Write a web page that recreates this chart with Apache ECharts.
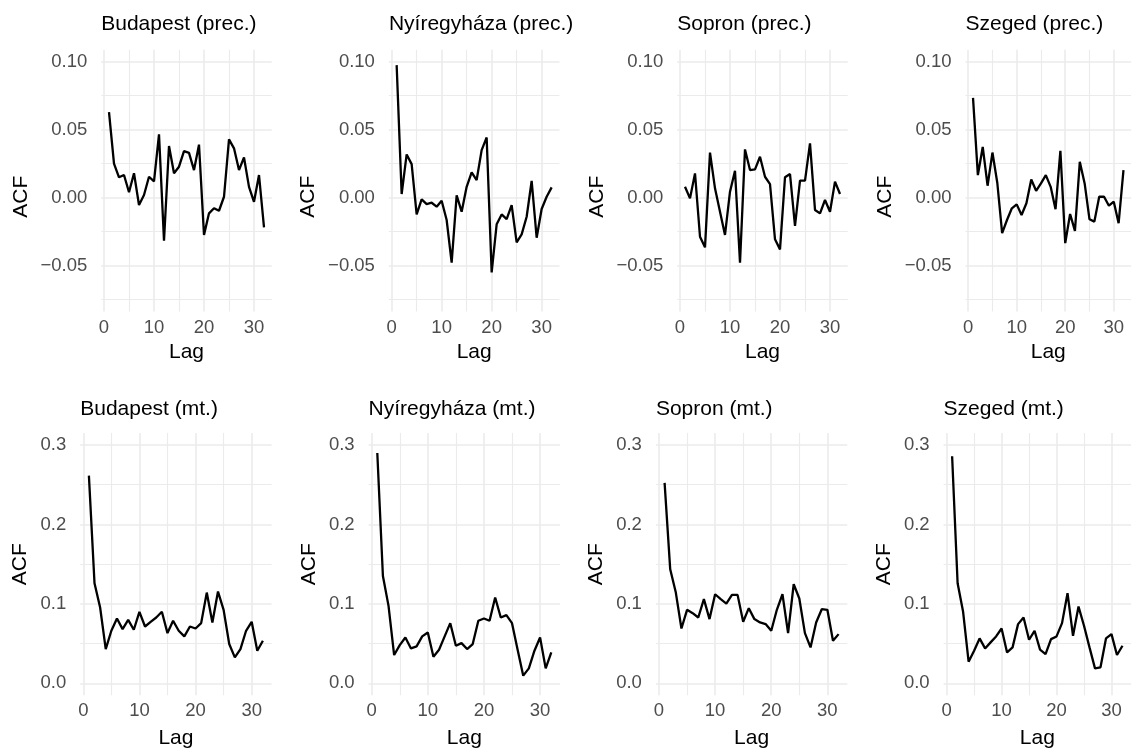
<!DOCTYPE html>
<html>
<head>
<meta charset="utf-8">
<script src="https://cdn.jsdelivr.net/npm/echarts@6/dist/echarts.min.js"></script>
<style>
  html, body { margin: 0; padding: 0; background: #ffffff; }
  #chart { width: 1131px; height: 754px; }
</style>
</head>
<body>
<div id="chart"></div>
<script>
// Autocorrelation (ACF) of daily series at four Hungarian stations, lags 1..32
const lags = [1, 2, 3, 4, 5, 6, 7, 8, 9, 10, 11, 12, 13, 14, 15, 16,
              17, 18, 19, 20, 21, 22, 23, 24, 25, 26, 27, 28, 29, 30, 31, 32];

// precipitation
const budapestPrec = [0.063, 0.025, 0.015, 0.0167, 0.004, 0.018, -0.0054, 0.002, 0.0154, 0.012, 0.0466, -0.0316,
  0.038, 0.018, 0.0228, 0.0343, 0.033, 0.0203, 0.039, -0.0274, -0.0115, -0.0078, -0.0096, 0.0007,
  0.0429, 0.0363, 0.0203, 0.0296, 0.008, -0.003, 0.0167, -0.0218];
const nyiregyhazaPrec = [0.0975, 0.0027, 0.0318, 0.0247, -0.0123, -0.0012, -0.0047, -0.0037, -0.0066, -0.0022, -0.0164, -0.0478,
  0.0017, -0.0103, 0.008, 0.0186, 0.013, 0.035, 0.0443, -0.0549, -0.0196, -0.0123, -0.0157, -0.0054,
  -0.0328, -0.027, -0.014, 0.0123, -0.0294, -0.0083, 0.0007, 0.0076];
const sopronPrec = [0.008, -0.0005, 0.0179, -0.0287, -0.0365, 0.0331, 0.0069, -0.0103, -0.0274, 0.0044, 0.0198, -0.0478,
  0.0355, 0.0203, 0.0208, 0.0301, 0.0154, 0.01, -0.0306, -0.038, 0.015, 0.0174, -0.0208, 0.0125,
  0.0125, 0.04, -0.009, -0.0115, -0.0017, -0.0103, 0.0118, 0.0027];
const szegedPrec = [0.0734, 0.0166, 0.0373, 0.0088, 0.0332, 0.011, -0.0261, -0.0164, -0.0078, -0.0049, -0.0127, -0.0041,
  0.0134, 0.0051, 0.0105, 0.0166, 0.008, -0.0085, 0.0344, -0.0334, -0.012, -0.0244, 0.0264, 0.0105,
  -0.0159, -0.0176, 0.0007, 0.0007, -0.0059, -0.0029, -0.0188, 0.0203];

// mean temperature
const budapestMt = [0.2615, 0.126, 0.0954, 0.0431, 0.0661, 0.0816, 0.0682, 0.0799, 0.0674, 0.09, 0.0715, 0.0774,
  0.0828, 0.09, 0.0632, 0.0787, 0.0661, 0.059, 0.0715, 0.069, 0.0757, 0.1142, 0.0766, 0.1155,
  0.0925, 0.0494, 0.0326, 0.0431, 0.0661, 0.0774, 0.041, 0.0536];
const nyiregyhazaMt = [0.29, 0.135, 0.0975, 0.0356, 0.0481, 0.0577, 0.0439, 0.0464, 0.059, 0.064, 0.0335, 0.0423,
  0.059, 0.0757, 0.0473, 0.0506, 0.0431, 0.0494, 0.0787, 0.0816, 0.0787, 0.108, 0.0828, 0.0858,
  0.0757, 0.0423, 0.0096, 0.0188, 0.041, 0.0577, 0.0188, 0.0389];
const sopronMt = [0.2523, 0.1435, 0.1142, 0.069, 0.0925, 0.0883, 0.0828, 0.1059, 0.0808, 0.1121, 0.1059, 0.1004,
  0.1113, 0.1113, 0.0774, 0.0946, 0.0808, 0.0766, 0.0745, 0.0661, 0.0925, 0.1121, 0.0632, 0.1247,
  0.1067, 0.0632, 0.0452, 0.0766, 0.0933, 0.0925, 0.0536, 0.0619];
const szegedMt = [0.2858, 0.126, 0.09, 0.0272, 0.041, 0.0565, 0.0439, 0.0515, 0.059, 0.069, 0.0389, 0.0452,
  0.0745, 0.0828, 0.0548, 0.0661, 0.0423, 0.0368, 0.0556, 0.059, 0.0757, 0.1134, 0.0598, 0.0966,
  0.0724, 0.0452, 0.0188, 0.0201, 0.0565, 0.0619, 0.0356, 0.0473];

// axis ticks
const lagTicks = [0, 10, 20, 30];
const lagMinorTicks = [5, 15, 25];
const precTicks = [-0.05, 0, 0.05, 0.1];
const precMinorTicks = [-0.075, -0.025, 0.025, 0.075];
const mtTicks = [0, 0.1, 0.2, 0.3];
const mtMinorTicks = [0.05, 0.15, 0.25];

const FONT = '"Liberation Sans", Arial, Helvetica, sans-serif';
const GRID_COLOR = '#EBEBEB';
const TICK_COLOR = '#4D4D4D';

const rows = [
  { top: 49.8, height: 261.8, width: 170.5, yMin: -0.08375, yMax: 0.10875,
    major: precTicks, minor: precMinorTicks, titleTop: 14.1, yNameGap: 70, xNameGap: 30.5,
    yNamePadding: [0, 32, 0, 0],
    fmt: v => (v < 0 ? '\u2212' : '') + Math.abs(v).toFixed(2) },
  { top: 433.1, height: 262.1, width: 191.4, yMin: -0.015, yMax: 0.315,
    major: mtTicks, minor: mtMinorTicks, titleTop: 398.4, yNameGap: 49, xNameGap: 32.5,
    yNamePadding: [0, 0, 0, 0],
    fmt: v => v.toFixed(1) }
];

const panels = [
  { title: 'Budapest (prec.)',    values: budapestPrec,    row: 0, left: 101.25 },
  { title: 'Nyíregyháza (prec.)', values: nyiregyhazaPrec, row: 0, left: 388.9 },
  { title: 'Sopron (prec.)',      values: sopronPrec,      row: 0, left: 677.25 },
  { title: 'Szeged (prec.)',      values: szegedPrec,      row: 0, left: 965.5 },
  { title: 'Budapest (mt.)',      values: budapestMt,      row: 1, left: 80.2 },
  { title: 'Nyíregyháza (mt.)',   values: nyiregyhazaMt,   row: 1, left: 368.6 },
  { title: 'Sopron (mt.)',        values: sopronMt,        row: 1, left: 655.9 },
  { title: 'Szeged (mt.)',        values: szegedMt,        row: 1, left: 943.6 }
];

const X_MIN = -0.55, X_MAX = 33.55;

const option = {
  animation: false,
  backgroundColor: '#ffffff',
  title: [], grid: [], xAxis: [], yAxis: [], series: []
};

panels.forEach((p, i) => {
  const r = rows[p.row];
  option.title.push({
    text: p.title, left: p.left, top: r.titleTop, padding: 0,
    textStyle: { fontFamily: FONT, fontSize: 21, fontWeight: 'normal', color: '#000000' }
  });
  option.grid.push({ left: p.left, top: r.top, width: r.width, height: r.height, containLabel: false });

  // main x axis: labels, name and major grid lines
  option.xAxis.push({
    type: 'value', gridIndex: i, min: X_MIN, max: X_MAX,
    axisLine: { show: false, onZero: false },
    axisTick: { show: false, customValues: lagTicks },
    axisLabel: { customValues: lagTicks, margin: 6.5, color: TICK_COLOR, fontSize: 18.5, fontFamily: FONT },
    splitLine: { show: true, lineStyle: { color: GRID_COLOR, width: 1.6 } },
    name: 'Lag', nameLocation: 'middle', nameGap: r.xNameGap,
    nameTextStyle: { color: '#000000', fontSize: 21, fontFamily: FONT }
  });
  // secondary x axis: minor grid lines only
  option.xAxis.push({
    type: 'value', gridIndex: i, min: X_MIN, max: X_MAX,
    axisLine: { show: false, onZero: false },
    axisTick: { show: false, customValues: lagMinorTicks },
    axisLabel: { show: false },
    splitLine: { show: true, lineStyle: { color: GRID_COLOR, width: 1.1 } }
  });

  option.yAxis.push({
    type: 'value', gridIndex: i, min: r.yMin, max: r.yMax,
    axisLine: { show: false, onZero: false },
    axisTick: { show: false, customValues: r.major },
    axisLabel: { customValues: r.major, margin: 14, color: TICK_COLOR, fontSize: 18.5, fontFamily: FONT,
                 formatter: r.fmt },
    splitLine: { show: true, lineStyle: { color: GRID_COLOR, width: 1.6 } },
    name: 'ACF', nameLocation: 'middle', nameGap: r.yNameGap, nameRotate: 90,
    nameTextStyle: { color: '#000000', fontSize: 21, fontFamily: FONT, padding: r.yNamePadding }
  });
  option.yAxis.push({
    type: 'value', gridIndex: i, min: r.yMin, max: r.yMax,
    axisLine: { show: false, onZero: false },
    axisTick: { show: false, customValues: r.minor },
    axisLabel: { show: false },
    splitLine: { show: true, lineStyle: { color: GRID_COLOR, width: 1.1 } }
  });

  option.series.push({
    type: 'line', xAxisIndex: 2 * i, yAxisIndex: 2 * i,
    data: lags.map((lag, k) => [lag, p.values[k]]),
    showSymbol: false, symbol: 'none', silent: true, z: 5,
    lineStyle: { color: '#000000', width: 2.3 }
  });
});

const chart = echarts.init(document.getElementById('chart'), null, { renderer: 'canvas' });
chart.setOption(option);
</script>
</body>
</html>
